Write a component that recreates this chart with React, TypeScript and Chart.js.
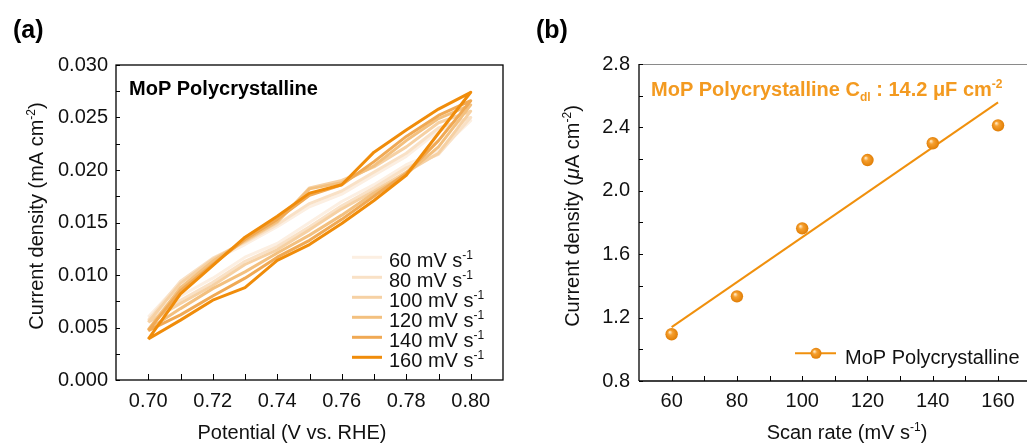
import { useEffect, useRef } from 'react';
import { Chart, registerables } from 'chart.js';

Chart.register(...registerables);

const FONT = "'Liberation Sans', Arial, Helvetica, sans-serif";

// ---------- Panel (a): CV curves ----------
const potentials = [0.7, 0.71, 0.72, 0.73, 0.74, 0.75, 0.76, 0.77, 0.78, 0.79, 0.8];
const scanRatesA = [60, 80, 100, 120, 140, 160];
const cvColors = ['#FCEFE2', '#F9E1C6', '#F6D1A4', '#F3C07F', '#F0A954', '#F08C0A'];

const cv60Lower = [0.006, 0.008, 0.0097, 0.0117, 0.013, 0.015, 0.017, 0.0186, 0.0205, 0.0218, 0.0247];
const cv60Upper = [0.006, 0.0093, 0.0114, 0.0129, 0.0146, 0.0165, 0.0177, 0.0195, 0.0213, 0.0237, 0.0247];
const cv80Lower = [0.0057, 0.0076, 0.0093, 0.0113, 0.0127, 0.0146, 0.0166, 0.0183, 0.0202, 0.0215, 0.025];
const cv80Upper = [0.0057, 0.0094, 0.0116, 0.0131, 0.0148, 0.0168, 0.018, 0.0198, 0.0216, 0.024, 0.025];
const cv100Lower = [0.0055, 0.0073, 0.009, 0.011, 0.0124, 0.0143, 0.0163, 0.018, 0.0198, 0.0216, 0.0256];
const cv100Upper = [0.0055, 0.0092, 0.0115, 0.0132, 0.015, 0.0183, 0.019, 0.0203, 0.0222, 0.0245, 0.0256];
const cv120Lower = [0.0048, 0.0068, 0.0087, 0.0103, 0.0121, 0.0138, 0.0157, 0.0178, 0.0196, 0.0222, 0.0262];
const cv120Upper = [0.0048, 0.0088, 0.0113, 0.0133, 0.0151, 0.0182, 0.0188, 0.0204, 0.0228, 0.0249, 0.0262];
const cv140Lower = [0.0047, 0.0062, 0.008, 0.0097, 0.0117, 0.0133, 0.0153, 0.0175, 0.0197, 0.0228, 0.0266];
const cv140Upper = [0.0047, 0.0085, 0.011, 0.0134, 0.0153, 0.0176, 0.0186, 0.0208, 0.0232, 0.0252, 0.0266];
const cv160Lower = [0.0039, 0.0057, 0.0076, 0.0088, 0.0114, 0.0129, 0.0149, 0.0171, 0.0195, 0.0235, 0.0274];
const cv160Upper = [0.0039, 0.0082, 0.0109, 0.0136, 0.0156, 0.0178, 0.0186, 0.0217, 0.0238, 0.0258, 0.0274];

const cvLowers = [cv60Lower, cv80Lower, cv100Lower, cv120Lower, cv140Lower, cv160Lower];
const cvUppers = [cv60Upper, cv80Upper, cv100Upper, cv120Upper, cv140Upper, cv160Upper];

const xLabelsA = [0.7, 0.72, 0.74, 0.76, 0.78, 0.8];
const xTickMarksA = potentials;
const yLabelsA = [0, 0.005, 0.01, 0.015, 0.02, 0.025, 0.03];
const yTickMarksA = [0, 0.0025, 0.005, 0.0075, 0.01, 0.0125, 0.015, 0.0175, 0.02, 0.0225, 0.025, 0.0275, 0.03];

// ---------- Panel (b): Cdl fit ----------
const scanRatesB = [60, 80, 100, 120, 140, 160];
const currentB = [1.095, 1.334, 1.763, 2.194, 2.3, 2.413];
const fitX = [60, 160];
const fitY = [1.14, 2.558];
const xLabelsB = [60, 80, 100, 120, 140, 160];
const xTickMarksB = [60, 70, 80, 90, 100, 110, 120, 130, 140, 150, 160];
const yLabelsB = [0.8, 1.2, 1.6, 2.0, 2.4, 2.8];
const yTickMarksB = [0.8, 1.0, 1.2, 1.4, 1.6, 1.8, 2.0, 2.2, 2.4, 2.6, 2.8];
const ORANGE = '#F0900D';
const ORANGE_TEXT = '#F39A20';

type Seg = { t: string; s?: 'sup' | 'sub'; i?: boolean };

function drawRich(
  ctx: CanvasRenderingContext2D,
  segs: Seg[],
  x: number,
  y: number,
  size: number,
  weight: string,
  color: string,
  align: 'left' | 'center'
) {
  const fontFor = (seg: Seg) =>
    `${seg.i ? 'italic ' : ''}${weight} ${seg.s ? Math.round(size * 0.62) : size}px ${FONT}`;
  let w = 0;
  segs.forEach((seg) => {
    ctx.font = fontFor(seg);
    w += ctx.measureText(seg.t).width;
  });
  let cx = align === 'center' ? x - w / 2 : x;
  ctx.fillStyle = color;
  ctx.textBaseline = 'alphabetic';
  ctx.textAlign = 'left';
  segs.forEach((seg) => {
    ctx.font = fontFor(seg);
    const dy = seg.s === 'sup' ? -size * 0.42 : seg.s === 'sub' ? size * 0.27 : 0;
    ctx.fillText(seg.t, cx, y + dy);
    cx += ctx.measureText(seg.t).width;
  });
}

function drawRotated(
  ctx: CanvasRenderingContext2D,
  segs: Seg[],
  x: number,
  y: number,
  size: number,
  color: string
) {
  ctx.save();
  ctx.translate(x, y);
  ctx.rotate(-Math.PI / 2);
  drawRich(ctx, segs, 0, 0, size, 'normal', color, 'center');
  ctx.restore();
}

function line(ctx: CanvasRenderingContext2D, x1: number, y1: number, x2: number, y2: number) {
  ctx.beginPath();
  ctx.moveTo(x1, y1);
  ctx.lineTo(x2, y2);
  ctx.stroke();
}

function ballGradient(ctx: CanvasRenderingContext2D, px: number, py: number, r: number) {
  if (!Number.isFinite(px) || !Number.isFinite(py)) return '#EE8A00';
  const g = ctx.createRadialGradient(px - r * 0.3, py - r * 0.35, 0.5, px, py, r + 0.5);
  g.addColorStop(0, '#FFE4B8');
  g.addColorStop(0.3, '#F6A030');
  g.addColorStop(1, '#DE7A00');
  return g;
}

const decorA = {
  id: 'decorA',
  afterDraw(chart: any) {
    const { ctx, chartArea, scales } = chart;
    const { left, right, top, bottom } = chartArea;
    ctx.save();
    ctx.strokeStyle = '#000';
    ctx.lineWidth = 1.3;
    ctx.strokeRect(left, top, right - left, bottom - top);
    ctx.lineWidth = 1;
    xTickMarksA.forEach((v) => {
      const px = Math.round(scales.x.getPixelForValue(v)) + 0.5;
      line(ctx, px, bottom, px, bottom - 6);
    });
    yTickMarksA.forEach((v) => {
      const py = Math.round(scales.y.getPixelForValue(v)) + 0.5;
      line(ctx, left, py, left + 4, py);
    });
    drawRich(ctx, [{ t: '(a)' }], 13, 38, 25, 'bold', '#000', 'left');
    drawRich(ctx, [{ t: 'MoP Polycrystalline' }], 129, 95, 20, 'bold', '#000', 'left');
    drawRich(ctx, [{ t: 'Potential (V vs. RHE)' }], 292, 439, 20, 'normal', '#111', 'center');
    drawRotated(ctx, [{ t: 'Current density (mA cm' }, { t: '-2', s: 'sup' }, { t: ')' }], 43, 216, 20, '#111');
    scanRatesA.forEach((r, i) => {
      const ly = 257.3 + i * 20;
      ctx.strokeStyle = cvColors[i];
      ctx.lineWidth = 3;
      line(ctx, 352, ly, 382, ly);
      drawRich(ctx, [{ t: `${r} mV s` }, { t: '-1', s: 'sup' }], 389, ly + 9.7, 20, 'normal', '#111', 'left');
    });
    ctx.restore();
  },
};

const decorB = {
  id: 'decorB',
  afterDraw(chart: any) {
    const { ctx, chartArea, scales } = chart;
    const { left, right, top, bottom } = chartArea;
    ctx.save();
    ctx.strokeStyle = '#8a8a8a';
    ctx.lineWidth = 1;
    line(ctx, left, top + 0.5, right, top + 0.5);
    line(ctx, right - 0.5, top, right - 0.5, bottom);
    ctx.strokeStyle = '#000';
    ctx.lineWidth = 1.3;
    line(ctx, left, top, left, bottom);
    line(ctx, left, bottom, right, bottom);
    ctx.lineWidth = 1;
    xTickMarksB.forEach((v) => {
      const px = Math.round(scales.x.getPixelForValue(v)) + 0.5;
      line(ctx, px, bottom, px, bottom - 5);
    });
    yTickMarksB.forEach((v) => {
      const py = Math.round(scales.y.getPixelForValue(v)) + 0.5;
      line(ctx, left, py, left + 4, py);
    });
    drawRich(ctx, [{ t: '(b)' }], 21, 38, 25, 'bold', '#000', 'left');
    drawRich(
      ctx,
      [
        { t: 'MoP Polycrystalline C' },
        { t: 'dl', s: 'sub' },
        { t: ' : 14.2 μF cm' },
        { t: '-2', s: 'sup' },
      ],
      136,
      96,
      20,
      'bold',
      ORANGE_TEXT,
      'left'
    );
    drawRich(ctx, [{ t: 'Scan rate (mV s' }, { t: '-1', s: 'sup' }, { t: ')' }], 332, 439, 20, 'normal', '#111', 'center');
    drawRotated(
      ctx,
      [{ t: 'Current density (' }, { t: 'μ', i: true }, { t: 'A cm' }, { t: '-2', s: 'sup' }, { t: ')' }],
      64,
      216,
      20,
      '#111'
    );
    const ly = 353.3;
    ctx.strokeStyle = ORANGE;
    ctx.lineWidth = 2;
    line(ctx, 280, ly, 321, ly);
    ctx.beginPath();
    ctx.arc(301, ly, 5.5, 0, Math.PI * 2);
    ctx.fillStyle = ballGradient(ctx, 301, ly, 5.5);
    ctx.fill();
    drawRich(ctx, [{ t: 'MoP Polycrystalline' }], 330, 364, 20, 'normal', '#111', 'left');
    ctx.restore();
  },
};

const tickFont = { family: FONT, size: 20 };
const noGrid = { display: false, drawTicks: false };

export default function App() {
  const refA = useRef<HTMLCanvasElement>(null);
  const refB = useRef<HTMLCanvasElement>(null);

  useEffect(() => {
    const datasetsA = scanRatesA.map((r, i) => {
      const lower = cvLowers[i];
      const upper = cvUppers[i];
      const pts = potentials.map((x, k) => ({ x, y: lower[k] }));
      for (let k = potentials.length - 1; k >= 0; k--) pts.push({ x: potentials[k], y: upper[k] });
      return {
        label: `${r} mV s-1`,
        data: pts,
        showLine: true,
        borderColor: cvColors[i],
        backgroundColor: cvColors[i],
        borderWidth: 3,
        pointRadius: 0,
        tension: 0,
        borderJoinStyle: 'round' as const,
        order: scanRatesA.length - i,
      };
    });

    const chartA = new Chart(refA.current!, {
      type: 'scatter',
      data: { datasets: datasetsA as any },
      options: {
        animation: false,
        responsive: false,
        maintainAspectRatio: false,
        layout: { padding: { top: 65, right: 12, left: 0, bottom: 0 } },
        plugins: { legend: { display: false }, tooltip: { enabled: false } },
        scales: {
          x: {
            type: 'linear',
            min: 0.69,
            max: 0.81,
            grid: noGrid,
            border: { display: false },
            afterBuildTicks: (axis: any) => {
              axis.ticks = xLabelsA.map((v) => ({ value: v }));
            },
            afterFit: (axis: any) => {
              axis.height = 64;
            },
            ticks: {
              font: tickFont,
              color: '#111',
              padding: 9,
              maxRotation: 0,
              autoSkip: false,
              callback: (v: any) => Number(v).toFixed(2),
            },
          },
          y: {
            type: 'linear',
            min: 0,
            max: 0.03,
            grid: noGrid,
            border: { display: false },
            afterBuildTicks: (axis: any) => {
              axis.ticks = yLabelsA.map((v) => ({ value: v }));
            },
            afterFit: (axis: any) => {
              axis.width = 116;
            },
            ticks: {
              font: tickFont,
              color: '#111',
              padding: 8,
              autoSkip: false,
              callback: (v: any) => Number(v).toFixed(3),
            },
          },
        },
      },
      plugins: [decorA],
    });

    const chartB = new Chart(refB.current!, {
      type: 'scatter',
      data: {
        datasets: [
          {
            label: 'MoP Polycrystalline',
            data: scanRatesB.map((x, i) => ({ x, y: currentB[i] })),
            showLine: false,
            pointRadius: 6.2,
            pointBorderWidth: 0,
            pointBackgroundColor: (c: any) => {
              try {
                const chart = c.chart;
                const xs = chart.scales?.x;
                const ys = chart.scales?.y;
                if (!xs || !ys || !c.parsed) return '#EE8A00';
                const px = xs.getPixelForValue(c.parsed.x);
                const py = ys.getPixelForValue(c.parsed.y);
                return ballGradient(chart.ctx, px, py, 6.2);
              } catch (e) {
                return '#EE8A00';
              }
            },
            order: 0,
          } as any,
          {
            label: 'fit',
            data: fitX.map((x, i) => ({ x, y: fitY[i] })),
            showLine: true,
            borderColor: ORANGE,
            borderWidth: 2,
            pointRadius: 0,
            order: 1,
          },
        ],
      },
      options: {
        animation: false,
        responsive: false,
        maintainAspectRatio: false,
        layout: { padding: { top: 64, right: 14.3, left: 0, bottom: 0 } },
        plugins: { legend: { display: false }, tooltip: { enabled: false } },
        scales: {
          x: {
            type: 'linear',
            min: 50,
            max: 170,
            grid: noGrid,
            border: { display: false },
            afterBuildTicks: (axis: any) => {
              axis.ticks = xLabelsB.map((v) => ({ value: v }));
            },
            afterFit: (axis: any) => {
              axis.height = 63;
            },
            ticks: {
              font: tickFont,
              color: '#111',
              padding: 8,
              maxRotation: 0,
              autoSkip: false,
              callback: (v: any) => String(v),
            },
          },
          y: {
            type: 'linear',
            min: 0.8,
            max: 2.8,
            grid: noGrid,
            border: { display: false },
            afterBuildTicks: (axis: any) => {
              axis.ticks = yLabelsB.map((v) => ({ value: v }));
            },
            afterFit: (axis: any) => {
              axis.width = 124;
            },
            ticks: {
              font: tickFont,
              color: '#111',
              padding: 9,
              autoSkip: false,
              callback: (v: any) => Number(v).toFixed(1),
            },
          },
        },
      },
      plugins: [decorB],
    });

    return () => {
      chartA.destroy();
      chartB.destroy();
    };
  }, []);

  return (
    <div
      style={{
        position: 'fixed',
        left: 0,
        top: 0,
        width: 1027,
        height: 444,
        overflow: 'hidden',
        background: '#fff',
      }}
    >
      <canvas
        ref={refA}
        width={515}
        height={444}
        style={{ position: 'absolute', left: 0, top: 0, width: 515, height: 444 }}
      />
      <canvas
        ref={refB}
        width={530}
        height={444}
        style={{ position: 'absolute', left: 515, top: 0, width: 530, height: 444 }}
      />
    </div>
  );
}
